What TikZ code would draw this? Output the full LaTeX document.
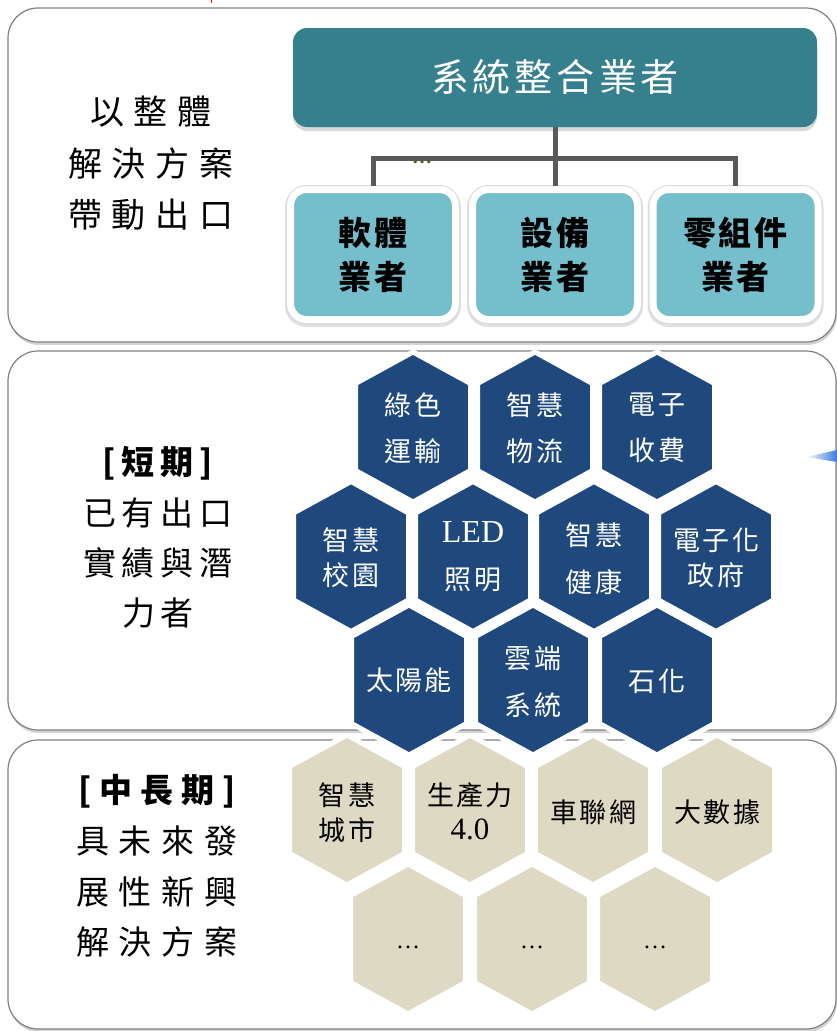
\documentclass[tikz,border=0pt]{standalone}
\usepackage{fontspec}
\setmainfont{Liberation Serif}
\newfontfamily\cjk{Noto Sans CJK TC}
\usetikzlibrary{shadows}
\definecolor{teal1}{HTML}{367F8D}
\definecolor{lteal}{HTML}{75BFCC}
\definecolor{hexblue}{HTML}{1F497D}
\definecolor{hextan}{HTML}{DDD9C3}
\definecolor{conngray}{HTML}{595959}
\definecolor{panelgray}{HTML}{808080}
\definecolor{dotgreen}{HTML}{4F6228}
\definecolor{wedgeblue}{HTML}{3A7BE0}
\newlength\lsp
\def\spc#1{\spcA#1\spcEnd}
\def\spcA#1#2\spcEnd{#1\ifx\relax#2\relax\else\hspace{\lsp}\spcA#2\spcEnd\fi}
\newcommand\hexshape[3]{\path[fill=#3, draw=white, line width=5pt, line join=round, shift={(#1,#2)}] (0,-75) -- (57.5,-43.5) -- (57.5,43.5) -- (0,75) -- (-57.5,43.5) -- (-57.5,-43.5) -- cycle;}
\begin{document}
\begin{tikzpicture}[x=1pt,y=-1pt,
  panel/.style={draw=panelgray, line width=1.2pt, fill=white, rounded corners=30pt,
    drop shadow={shadow xshift=1pt, shadow yshift=-3pt, opacity=0.35}},
  titlebox/.style={fill=teal1, rounded corners=14pt, minimum width=524pt, minimum height=99pt,
    text=white, inner sep=0pt, font=\cjk\fontsize{38}{40}\selectfont\setlength\lsp{4pt},
    drop shadow={shadow xshift=0pt, shadow yshift=-4pt, opacity=0.3}},
  subbox/.style={fill=lteal, draw=white, line width=7pt, rounded corners=16pt,
    minimum width=165pt, minimum height=130pt, align=center, inner sep=0pt,
    font=\cjk\bfseries\fontsize{33}{44}\selectfont\setlength\lsp{3pt},
    preaction={draw=black!12, line width=11pt, transform canvas={yshift=-2pt}},
    preaction={draw=black!15, line width=9pt}},
  conn/.style={draw=conngray, line width=5pt},
  hexw/.style={text=white, align=center, inner sep=0pt,
    font=\cjk\fontsize{27}{#1}\selectfont\setlength\lsp{2.5pt}},
  hexk/.style={text=black, align=center, inner sep=0pt,
    font=\cjk\fontsize{27}{#1}\selectfont\setlength\lsp{2.5pt}},
  sidetxt/.style={align=center, inner sep=0pt, text=black}
]
\useasboundingbox (0,0) rectangle (837,1031);
% panels
\draw[panel] (8,8) rectangle (836,342);
\draw[panel] (8,351) rectangle (836,730);
\draw[panel] (8,740) rectangle (836,1029);
\draw[red, line width=1pt] (211,0) -- (211,3);
\shade[left color=white, right color=wedgeblue] (806,457) -- (837,450) -- (837,462) -- cycle;

% top org chart
\node[titlebox] (sys) at (555,77.5) {\spc{系統整合業者}};
\node[subbox] (sw) at (373,254.5) {\spc{軟體}\\\spc{業者}};
\node[subbox] (eq) at (555,254.5) {\spc{設備}\\\spc{業者}};
\node[subbox] (pt) at (735.5,254.5) {\spc{零組件}\\\spc{業者}};
\coordinate (bus) at (555,158);
\draw[conn] (sys.south) -- (eq.north);
\draw[conn] (sw.north) |- (bus) -| (pt.north);
\node[font=\bfseries\fontsize{20}{20}\selectfont, text=dotgreen, inner sep=0pt] (gd) at (422,162) {…};

% side texts
\node[sidetxt, font=\cjk\fontsize{34}{51.5}\selectfont\setlength\lsp{10pt}] (t1) at (151,163.5)
  {\spc{以整體}\\\spc{解決方案}\\\spc{帶動出口}};
\node[sidetxt, font=\cjk\fontsize{33}{50.3}\selectfont\setlength\lsp{6pt}] (t2) at (158,537.5)
  {{\bfseries\spc{[短期]}}\\\spc{已有出口}\\\spc{實績與潛}\\\spc{力者}};
\node[sidetxt, font=\cjk\fontsize{33}{50.7}\selectfont\setlength\lsp{10pt}] (t3) at (157,866)
  {{\bfseries\setlength\lsp{8pt}\spc{[中長期]}}\\\spc{具未來發}\\\spc{展性新興}\\\spc{解決方案}};

% blue hexagons
\hexshape{413}{427}{hexblue}
\hexshape{535}{427}{hexblue}
\hexshape{657}{427}{hexblue}
\hexshape{351}{556.5}{hexblue}
\hexshape{473}{556.5}{hexblue}
\hexshape{594}{556.5}{hexblue}
\hexshape{716}{556.5}{hexblue}
\hexshape{409}{680}{hexblue}
\hexshape{533}{680}{hexblue}
\hexshape{657}{680}{hexblue}
% tan hexagons
\hexshape{347}{810}{hextan}
\hexshape{470}{810}{hextan}
\hexshape{593}{810}{hextan}
\hexshape{717}{810}{hextan}
\hexshape{408}{939}{hextan}
\hexshape{532}{939}{hextan}
\hexshape{655}{939}{hextan}

% blue hex labels
\node[hexw=46] (b1) at (413,428) {\spc{綠色}\\\spc{運輸}};
\node[hexw=46] (b2) at (535,428) {\spc{智慧}\\\spc{物流}};
\node[hexw=46] (b3) at (657,428) {\spc{電子}\\\spc{收費}};
\node[hexw=35] (b4) at (351,557.5) {\spc{智慧}\\\spc{校園}};
\node[hexw=47] (b5) at (473,557) {{\rmfamily\fontsize{32}{32}\selectfont LED}\\\spc{照明}};
\node[hexw=47] (b6) at (594,558.5) {\spc{智慧}\\\spc{健康}};
\node[hexw=35] (b7) at (716,557.5) {\spc{電子化}\\\spc{政府}};
\node[hexw=47] (b8) at (409,680) {\spc{太陽能}};
\node[hexw=47] (b9) at (533,681.5) {\spc{雲端}\\\spc{系統}};
\node[hexw=47] (b10) at (657,681) {\spc{石化}};
% tan hex labels
\node[hexk=35] (c1) at (347,812.5) {\spc{智慧}\\\spc{城市}};
\node[hexk=34] (c2) at (470,811.5) {\spc{生產力}\\{\rmfamily\fontsize{31}{31}\selectfont 4.0}};
\node[hexk=35] (c3) at (593,812) {\spc{車聯網}};
\node[hexk=35] (c4) at (717,812) {\spc{大數據}};
\node[hexk=35, font=\fontsize{24}{24}\selectfont] (c5) at (408,947) {…};
\node[hexk=35, font=\fontsize{24}{24}\selectfont] (c6) at (532,947) {…};
\node[hexk=35, font=\fontsize{24}{24}\selectfont] (c7) at (655,947) {…};
\end{tikzpicture}
\end{document}
